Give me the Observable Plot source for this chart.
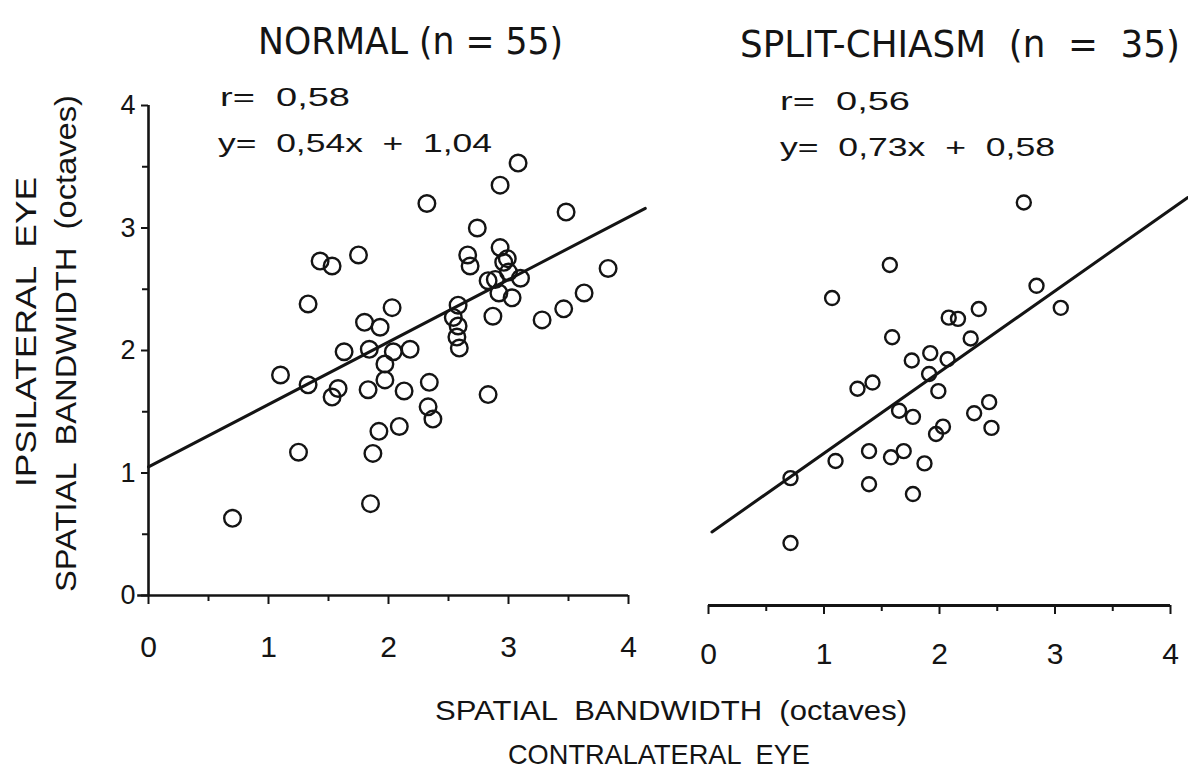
<!DOCTYPE html>
<html><head><meta charset="utf-8">
<script src="https://cdn.jsdelivr.net/npm/d3@7"></script>
<script src="https://cdn.jsdelivr.net/npm/@observablehq/plot@0.6"></script>
<style>
html,body{margin:0;padding:0;background:#fff;}
#root{position:relative;width:1188px;height:771px;overflow:hidden;background:#fff;}
#root > svg{position:absolute;left:0;top:0;}
</style></head><body><div id="root"></div>
<script>
// ---- data ----
const normalX = [0.70,1.10,1.25,1.33,1.33,1.43,1.53,1.53,1.58,1.63,1.75,1.80,1.84,1.83,1.85,1.87,1.92,1.93,1.97,1.97,2.03,2.04,2.09,2.13,2.18,2.32,2.34,2.33,2.37,2.58,2.54,2.58,2.57,2.59,2.66,2.68,2.74,2.83,2.89,2.93,2.99,3.00,3.10,2.92,3.03,2.93,3.08,2.87,2.83,3.28,3.46,3.63,3.83,3.48,2.96];
const normalY = [0.63,1.80,1.17,2.38,1.72,2.73,2.69,1.62,1.69,1.99,2.78,2.23,2.01,1.68,0.75,1.16,1.34,2.19,1.89,1.76,2.35,1.99,1.38,1.67,2.01,3.20,1.74,1.54,1.44,2.37,2.27,2.20,2.11,2.02,2.78,2.69,3.00,2.57,2.58,2.84,2.75,2.64,2.59,2.47,2.43,3.35,3.53,2.28,1.64,2.25,2.34,2.47,2.67,3.13,2.72];
const splitX = [0.71,0.71,1.07,1.10,1.29,1.42,1.39,1.39,1.57,1.59,1.58,1.65,1.69,1.76,1.77,1.77,1.87,1.92,1.91,1.99,2.07,2.03,1.97,2.08,2.16,2.34,2.27,2.30,2.43,2.45,2.73,2.84,3.05];
const splitY = [1.04,0.51,2.51,1.18,1.77,1.82,1.26,0.99,2.78,2.19,1.21,1.59,1.26,2.00,1.54,0.91,1.16,2.06,1.89,1.75,2.01,1.46,1.40,2.35,2.34,2.42,2.18,1.57,1.66,1.45,3.29,2.61,2.43];
const normalFitX = [0, 4.14];
const normalFitY = [1.05, 3.16];
const splitFitX = [0.03, 4.15];
const splitFitY = [0.60, 3.33];
const majorTicks = [0, 1, 2, 3, 4];
const minorTicks = [0.5, 1.5, 2.5, 3.5];
const panelTitles = ["NORMAL (n = 55)", "SPLIT-CHIASM  (n  =  35)"];
const rLabels = ["r=  0,58", "r=  0,56"];
const eqLabels = ["y=  0,54x  +  1,04", "y=  0,73x  +  0,58"];
const xTitles = ["SPATIAL  BANDWIDTH  (octaves)", "CONTRALATERAL  EYE"];
const yTitles = ["IPSILATERAL  EYE", "SPATIAL  BANDWIDTH  (octaves)"];

const ink = "#141414";
const font = "'Liberation Sans', 'DejaVu Sans', sans-serif";
const toPts = (xs, ys) => xs.map((x, i) => ({x, y: ys[i]}));
const intFmt = d => String(d);

const root = document.getElementById("root");

// ---- left panel ----
const left = Plot.plot({
  width: 660, height: 680,
  marginLeft: 148, marginRight: 32, marginTop: 105, marginBottom: 85,
  x: {domain: [0, 4]},
  y: {domain: [0, 4]},
  style: {fontFamily: font, color: ink, background: "transparent", overflow: "visible"},
  marks: [
    Plot.ruleY([0], {x1: -0.09, x2: 4, stroke: ink, strokeWidth: 2.6}),
    Plot.ruleX([0], {y1: 0, y2: 4, stroke: ink, strokeWidth: 2.6}),
    Plot.axisX(majorTicks, {tickSize: 9, tickPadding: 31, strokeWidth: 2, fontSize: 30, tickFormat: intFmt, label: null}),
    Plot.axisX(minorTicks, {tickSize: 6, strokeWidth: 2, tickFormat: () => "", label: null}),
    Plot.axisY(majorTicks, {tickSize: 7, tickPadding: 6, strokeWidth: 2, fontSize: 27, tickFormat: intFmt, label: null}),
    Plot.axisY(minorTicks, {tickSize: 6, strokeWidth: 2, tickFormat: () => "", label: null}),
    Plot.line(toPts(normalFitX, normalFitY), {x: "x", y: "y", stroke: ink, strokeWidth: 3}),
    Plot.dot(toPts(normalX, normalY), {x: "x", y: "y", r: 8.3, stroke: ink, strokeWidth: 2.4, fill: "none"})
  ]
});
left.style.left = "0px";
root.appendChild(left);

// ---- right panel ----
const right = Plot.plot({
  width: 528, height: 680,
  marginLeft: 48, marginRight: 18, marginTop: 115, marginBottom: 75,
  x: {domain: [0, 4]},
  y: {domain: [0, 4], axis: null},
  style: {fontFamily: font, color: ink, background: "transparent", overflow: "visible"},
  marks: [
    Plot.ruleY([0], {x1: 0, x2: 4, stroke: ink, strokeWidth: 2.8}),
    Plot.axisX(majorTicks, {tickSize: 9, tickPadding: 28, strokeWidth: 2, fontSize: 30, tickFormat: intFmt, label: null}),
    Plot.axisX(minorTicks, {tickSize: 6, strokeWidth: 2, tickFormat: () => "", label: null}),
    Plot.line(toPts(splitFitX, splitFitY), {x: "x", y: "y", stroke: ink, strokeWidth: 3}),
    Plot.dot(toPts(splitX, splitY), {x: "x", y: "y", r: 7, stroke: ink, strokeWidth: 2.4, fill: "none"})
  ]
});
right.style.left = "660px";
root.appendChild(right);

// ---- text overlay ----
const svg = d3.select(root).append("svg")
  .attr("width", 1188).attr("height", 771)
  .style("pointer-events", "none");
function label(str, x, y, len, size, opts = {}) {
  const t = svg.append("text")
    .attr("x", opts.rotate ? 0 : x).attr("y", opts.rotate ? 0 : y)
    .attr("font-family", opts.family || font)
    .attr("font-size", size)
    .attr("fill", ink)
    .attr("textLength", len)
    .attr("lengthAdjust", "spacingAndGlyphs")
    .style("white-space", "pre")
    .text(str);
  if (opts.rotate) t.attr("transform", `translate(${x},${y}) rotate(-90)`);
  return t;
}
const narrow = "'Liberation Sans Narrow', 'DejaVu Sans Condensed', 'Liberation Sans', sans-serif";
label(panelTitles[0], 258, 54, 305, 38, {family: narrow});
label(panelTitles[1], 740, 57, 440, 38, {family: narrow});
label(rLabels[0], 220, 106, 130, 26);
label(eqLabels[0], 218, 152, 274, 26);
label(rLabels[1], 780, 110, 130, 26);
label(eqLabels[1], 780, 156, 275, 26);
label(xTitles[0], 435, 720, 472, 28);
label(xTitles[1], 508, 764, 302, 28);
label(yTitles[0], 36, 487, 310, 30, {rotate: true});
label(yTitles[1], 76, 592, 497, 30, {rotate: true});
</script>
</body></html>
